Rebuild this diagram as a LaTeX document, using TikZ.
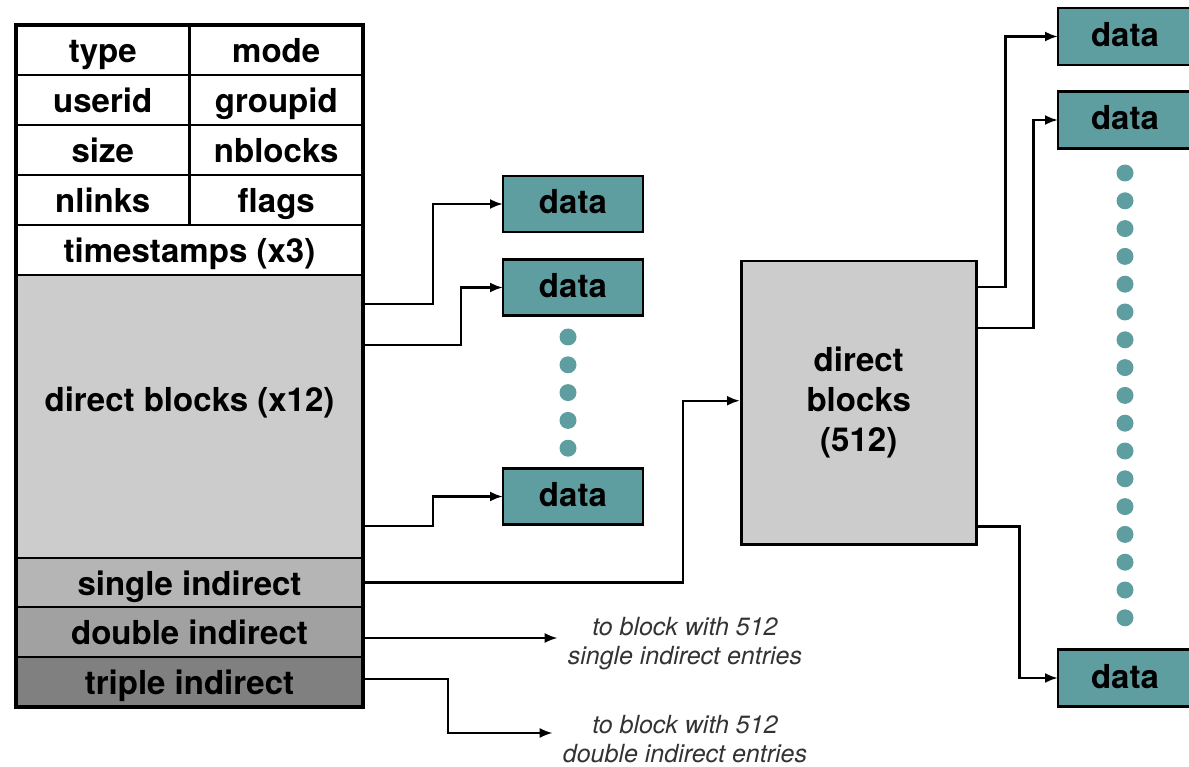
\documentclass[tikz,border=0pt]{standalone}
\usepackage{fontspec}
\setmainfont{TeX Gyre Heros}
\usetikzlibrary{positioning,arrows.meta}
\definecolor{datateal}{RGB}{95,158,160}
\begin{document}
\begin{tikzpicture}[x=1pt, y=-1pt, font=\fontsize{33}{40}\selectfont\bfseries]
\tikzstyle{cell} = [rectangle, draw=black, line width=2.5pt, fill=white, minimum width=173.5pt, minimum height=50pt, inner sep=0pt, outer sep=0pt, text height=28pt, text depth=3pt, text centered]
\tikzstyle{wide} = [cell, minimum width=347pt]
\tikzstyle{datablock} = [rectangle, draw=black, line width=2.5pt, fill=datateal, minimum width=140pt, minimum height=56pt, inner sep=0pt, outer sep=0pt, text height=22pt, text depth=2pt]
\tikzstyle{note} = [align=center, font=\fontsize{25}{29}\selectfont\itshape, text=black!80, inner sep=0pt]
\tikzstyle{arrow} = [line width=2.5pt, -{Latex[length=13pt,width=10pt]}]

\clip (0,0) rectangle (1189,767);

% inode table
\node (type) [cell, anchor=north west] at (16,25) {type};
\node (mode) [cell, right=0pt of type] {mode};
\node (userid) [cell, below=0pt of type] {userid};
\node (groupid) [cell, below=0pt of mode] {groupid};
\node (size) [cell, below=0pt of userid] {size};
\node (nblocks) [cell, below=0pt of groupid] {nblocks};
\node (nlinks) [cell, below=0pt of size] {nlinks};
\node (flags) [cell, below=0pt of nblocks] {flags};
\node (stamps) [wide, anchor=north west] at (nlinks.south west) {timestamps (x3)};
\node (direct) [wide, below=0pt of stamps, minimum height=283pt, fill=black!20, label={[yshift=14pt]center:direct blocks (x12)}] {};
\node (single) [wide, below=0pt of direct, minimum height=49pt, fill=black!29] {single indirect};
\node (double) [wide, below=0pt of single, fill=black!37] {double indirect};
\node (triple) [wide, below=0pt of double, fill=black!50] {triple indirect};
\draw [line width=3.5pt] (type.north west) rectangle (triple.south east);

% data blocks
\node (data1) [datablock] at (573,204) {data};
\node (data2) [datablock] at (573,287.5) {data};
\node (data3) [datablock] at (573,496.5) {data};
\foreach \i in {0,...,4}
  \fill [datateal] (568,337+27.8*\i) circle (8.5pt);

\node (ind) [rectangle, draw=black, line width=2.5pt, fill=black!20, minimum width=235pt, minimum height=283pt, anchor=north west, align=center] at (740,260) {direct\\blocks\\(512)};

\node (rdata1) [datablock, anchor=west, minimum height=57pt] at (1058,36.5) {\hspace*{-6pt}data};
\node (rdata2) [datablock, anchor=west, minimum height=57pt] at (1058,120) {\hspace*{-6pt}data};
\node (rdata3) [datablock, anchor=west, minimum height=57pt] at (1058,678) {\hspace*{-6pt}data};
\foreach \i in {0,...,16}
  \fill [datateal] (1125,173+27.8*\i) circle (8.5pt);

\node (txt1) [note] at (685,644) {to block with 512\\single indirect entries};
\node (txt2) [note] at (685,739) {to block with 512\\double indirect entries};

\draw [arrow] ([yshift=-29pt]direct.north east) -- ++(70,0) |- (data1.west);
\draw [arrow] ([yshift=-70pt]direct.north east) -- ++(98,0) |- (data2.west);
\draw [arrow] ([yshift=32pt]direct.south east) -- ++(70,0) |- (data3.west);
\draw [arrow] (single.east) -- ++(320,0) |- ([yshift=2pt]ind.west);
\coordinate (dblout) at ([yshift=-6pt]double.east);
\draw [arrow] (dblout) -- ([xshift=-10pt]dblout -| txt1.west);
\draw [arrow] ([yshift=3pt]triple.east) -- ++(85,0) |- ([xshift=-10pt,yshift=6pt]txt2.west);

\draw [arrow] ([yshift=-27pt]ind.north east) -- ++(28,0) |- (rdata1.west);
\draw [arrow] ([yshift=-68pt]ind.north east) -- ++(56,0) |- (rdata2.west);
\draw [arrow] ([yshift=19pt]ind.south east) -- ++(42,0) |- (rdata3.west);

\end{tikzpicture}
\end{document}
